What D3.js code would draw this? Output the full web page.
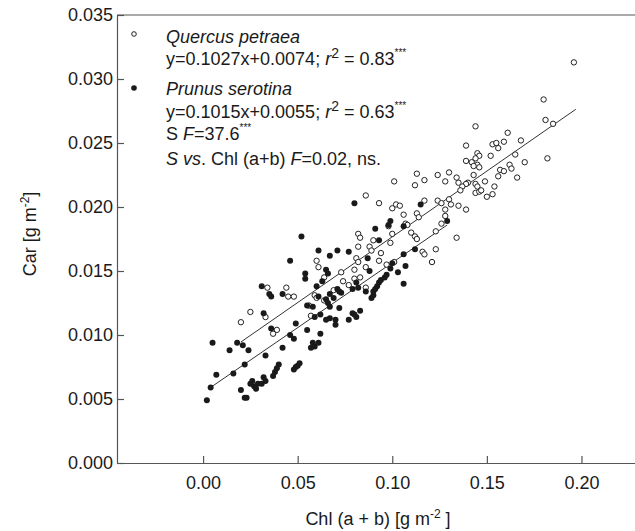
<!DOCTYPE html>
<html>
<head>
<meta charset="utf-8">
<script src="https://cdn.jsdelivr.net/npm/d3@7"></script>
<style>
  body { margin: 0; background: #fff; }
  text { font-family: "Liberation Sans", Arial, sans-serif; fill: #1a1a1a; }
</style>
</head>
<body>
<div id="container"></div>
<script>
// Quercus petraea (open circles): [Chl (a+b), Car]
const quercus = [
    [0.086,0.0209],[0.093,0.0203],[0.082,0.0179],[0.083,0.0176],[0.090,0.0174],[0.082,0.0169],[0.088,0.0169],[0.089,0.0166],
    [0.060,0.0158],[0.061,0.0153],[0.081,0.0160],[0.082,0.0157],[0.080,0.0151],[0.086,0.0153],[0.093,0.0158],[0.073,0.0149],
    [0.064,0.0145],[0.080,0.0144],[0.083,0.0145],[0.074,0.0142],[0.077,0.0139],[0.086,0.0137],[0.044,0.0137],[0.034,0.0137],
    [0.045,0.0130],[0.033,0.0114],[0.048,0.0130],[0.059,0.0131],[0.060,0.0129],[0.056,0.0123],[0.069,0.0135],[0.064,0.0127],
    [0.025,0.0118],[0.020,0.0110],[0.039,0.0104],[0.037,0.0101],[0.057,0.0115],
    [0.196,0.0313],[0.180,0.0284],[0.181,0.0268],[0.185,0.0265],[0.182,0.0238],[0.144,0.0263],[0.161,0.0258],[0.168,0.0252],
    [0.159,0.0251],[0.153,0.0249],[0.155,0.0250],[0.156,0.0246],[0.139,0.0248],[0.139,0.0236],[0.142,0.0235],[0.145,0.0242],
    [0.146,0.0240],[0.144,0.0238],[0.145,0.0233],[0.146,0.0231],[0.143,0.0232],[0.152,0.0240],[0.165,0.0241],[0.170,0.0235],
    [0.157,0.0229],[0.159,0.0228],[0.162,0.0233],[0.163,0.0230],[0.156,0.0224],[0.166,0.0223],[0.149,0.0220],[0.154,0.0216],
    [0.153,0.0210],[0.150,0.0208],[0.144,0.0218],[0.145,0.0216],[0.144,0.0211],[0.146,0.0212],[0.147,0.0213],[0.143,0.0225],
    [0.140,0.0219],[0.139,0.0218],[0.137,0.0216],[0.136,0.0213],[0.135,0.0219],[0.134,0.0223],[0.130,0.0227],[0.124,0.0225],
    [0.128,0.0220],[0.113,0.0226],[0.112,0.0217],[0.117,0.0221],[0.101,0.0220],
    [0.102,0.0202],[0.104,0.0201],[0.100,0.0199],[0.117,0.0205],[0.124,0.0205],[0.126,0.0203],[0.130,0.0206],[0.131,0.0202],
    [0.135,0.0201],[0.139,0.0198],[0.128,0.0198],[0.128,0.0193],[0.126,0.0187],[0.123,0.0181],[0.134,0.0176],[0.106,0.0194],
    [0.113,0.0195],[0.114,0.0192],[0.107,0.0187],[0.108,0.0186],[0.098,0.0185],[0.100,0.0179],[0.110,0.0180],[0.112,0.0177],
    [0.113,0.0175],[0.116,0.0165],[0.117,0.0163],[0.123,0.0167],[0.121,0.0157],[0.099,0.0172],[0.094,0.0164],[0.101,0.0157],
    [0.097,0.0155]
];

// Prunus serotina (filled dots)
const prunus = [
    [0.052,0.0177],[0.080,0.0203],[0.091,0.0183],[0.093,0.0174],[0.061,0.0166],[0.071,0.0166],[0.077,0.0165],[0.067,0.0162],
    [0.087,0.0160],[0.046,0.0158],[0.065,0.0151],[0.066,0.0148],[0.054,0.0148],[0.054,0.0144],[0.088,0.0150],[0.063,0.0142],
    [0.060,0.0138],[0.081,0.0141],[0.071,0.0136],[0.072,0.0134],[0.031,0.0138],[0.042,0.0132],[0.035,0.0132],[0.036,0.0130],
    [0.067,0.0132],[0.069,0.0129],[0.061,0.0130],[0.073,0.0133],[0.079,0.0136],[0.082,0.0137],[0.065,0.0128],[0.066,0.0125],
    [0.072,0.0121],[0.067,0.0122],[0.058,0.0122],[0.055,0.0123],[0.032,0.0117],[0.086,0.0134],[0.059,0.0114],[0.062,0.0116],
    [0.067,0.0113],[0.065,0.0112],[0.070,0.0112],[0.070,0.0108],[0.077,0.0112],[0.079,0.0117],[0.080,0.0116],[0.081,0.0114],
    [0.083,0.0119],[0.049,0.0109],[0.046,0.0100],[0.048,0.0097],[0.036,0.0105],[0.055,0.0104],[0.062,0.0101],[0.042,0.0090],
    [0.058,0.0094],[0.059,0.0091],[0.057,0.0090],[0.061,0.0094],[0.018,0.0094],[0.021,0.0092],[0.024,0.0088],[0.014,0.0088],
    [0.005,0.0094],[0.033,0.0084],[0.022,0.0077],[0.016,0.0070],[0.007,0.0069],[0.004,0.0059],[0.002,0.0049],[0.020,0.0057],
    [0.022,0.0051],[0.023,0.0051],[0.026,0.0064],[0.027,0.0060],[0.028,0.0058],[0.029,0.0062],[0.031,0.0062],[0.032,0.0067],
    [0.033,0.0064],[0.025,0.0062],[0.037,0.0068],[0.038,0.0071],[0.039,0.0074],[0.040,0.0077],[0.048,0.0073],[0.049,0.0075],
    [0.050,0.0076],[0.051,0.0078],
    [0.115,0.0202],[0.099,0.0189],[0.098,0.0186],[0.106,0.0185],[0.129,0.0189],[0.112,0.0167],[0.106,0.0163],[0.100,0.0156],
    [0.099,0.0152],[0.107,0.0154],[0.103,0.0149],[0.089,0.0129],[0.090,0.0131],[0.090,0.0134],[0.091,0.0136],[0.092,0.0138],
    [0.093,0.0141],[0.094,0.0143],[0.096,0.0145],[0.097,0.0147],[0.106,0.0140]
];

// regression fits: slope, intercept, x range
const fitQuercus = { a: 0.1027, b: 0.0074, from: 0.020, to: 0.197 };
const fitPrunus = { a: 0.1015, b: 0.0055, from: 0.004, to: 0.129 };

const xTicks = [0, 0.05, 0.10, 0.15, 0.20];
const yTicks = [0, 0.005, 0.010, 0.015, 0.020, 0.025, 0.030, 0.035];

const W = 635, H = 531;
const fs = 18;

const svg = d3.select('#container')
    .append('svg')
    .attr('width', W)
    .attr('height', H);

const x = d3.scaleLinear().domain([-0.0455, 0.2283]).range([117, 635]);
const y = d3.scaleLinear().domain([0, 0.035]).range([463, 15]);

// axes, ticks pointing inwards
const xAxis = svg.append('g')
    .attr('transform', `translate(0,${y(0)})`)
    .call(d3.axisBottom(x).tickValues(xTicks).tickFormat(d3.format('.2f'))
        .tickSizeInner(-7).tickSizeOuter(0).tickPadding(13));

const yAxis = svg.append('g')
    .attr('transform', `translate(${x.range()[0]},0)`)
    .call(d3.axisLeft(y).tickValues(yTicks).tickFormat(d3.format('.3f'))
        .tickSizeInner(-7).tickSizeOuter(0).tickPadding(4));

[xAxis, yAxis].forEach(a => {
    a.selectAll('path, line').attr('stroke', '#555').attr('stroke-width', 1.2);
    a.selectAll('text').attr('font-size', fs).attr('fill', '#1a1a1a')
        .attr('font-family', '"Liberation Sans", Arial, sans-serif');
});

// top frame line
svg.append('line')
    .attr('x1', x.range()[0]).attr('x2', x.range()[1])
    .attr('y1', y(0.035)).attr('y2', y(0.035))
    .attr('stroke', '#555').attr('stroke-width', 1.2);

// axis titles
const xTitle = svg.append('text')
    .attr('x', 378).attr('y', 525)
    .attr('text-anchor', 'middle')
    .attr('font-size', fs);
xTitle.append('tspan').text('Chl (a + b) [g m');
xTitle.append('tspan').attr('font-size', 12).attr('dy', -7).text('-2');
xTitle.append('tspan').attr('dy', 7).text(' ]');

const yTitle = svg.append('text')
    .attr('transform', 'translate(36,234) rotate(-90)')
    .attr('text-anchor', 'middle')
    .attr('font-size', fs);
yTitle.append('tspan').text('Car [g m');
yTitle.append('tspan').attr('font-size', 12).attr('dy', -7).text('-2');
yTitle.append('tspan').attr('dy', 7).text(']');

// regression lines
[fitQuercus, fitPrunus].forEach(f => {
    svg.append('line')
        .attr('x1', x(f.from)).attr('y1', y(f.a * f.from + f.b))
        .attr('x2', x(f.to)).attr('y2', y(f.a * f.to + f.b))
        .attr('stroke', '#333').attr('stroke-width', 1);
});

// points
const r = 2.7;
svg.append('g')
    .selectAll('circle')
    .data(quercus)
    .enter()
    .append('circle')
    .attr('cx', d => x(d[0]))
    .attr('cy', d => y(d[1]))
    .attr('r', r)
    .attr('fill', '#fff')
    .attr('stroke', '#222')
    .attr('stroke-width', 1);

svg.append('g')
    .selectAll('circle')
    .data(prunus)
    .enter()
    .append('circle')
    .attr('cx', d => x(d[0]))
    .attr('cy', d => y(d[1]))
    .attr('r', r + 0.3)
    .attr('fill', '#1a1a1a');

// legend
const lx = 166;
svg.append('circle').attr('cx', 134).attr('cy', 34).attr('r', 2.3)
    .attr('fill', '#fff').attr('stroke', '#222').attr('stroke-width', 1);
svg.append('circle').attr('cx', 134).attr('cy', 88).attr('r', 2.8)
    .attr('fill', '#1a1a1a');

function line(yy) {
    return svg.append('text').attr('x', lx).attr('y', yy).attr('font-size', fs);
}
function sup(t, s, dy) {
    t.append('tspan').attr('font-size', 10).attr('dy', -9).text(s);
}

line(43).attr('font-style', 'italic').text('Quercus petraea');

function eqLine(yy, eq, r2) {
    const t = line(yy);
    t.append('tspan').text(eq + '; ');
    t.append('tspan').attr('font-style', 'italic').text('r');
    t.append('tspan').attr('font-size', 14).attr('dy', -7).text('2');
    t.append('tspan').attr('dy', 7).text(' = ' + r2);
    t.append('tspan').attr('font-size', 10).attr('dy', -9).text('***');
}
eqLine(65, 'y=0.1027x+0.0074', '0.83');

line(95).attr('font-style', 'italic').text('Prunus serotina');
eqLine(118, 'y=0.1015x+0.0055', '0.63');

const sLine = line(140);
sLine.append('tspan').text('S ');
sLine.append('tspan').attr('font-style', 'italic').text('F');
sLine.append('tspan').text('=37.6');
sLine.append('tspan').attr('font-size', 10).attr('dy', -9).text('***');

const vLine = line(165);
vLine.append('tspan').attr('font-style', 'italic').text('S vs');
vLine.append('tspan').text('. Chl (a+b) ');
vLine.append('tspan').attr('font-style', 'italic').text('F');
vLine.append('tspan').text('=0.02, ns.');
</script>
</body>
</html>
